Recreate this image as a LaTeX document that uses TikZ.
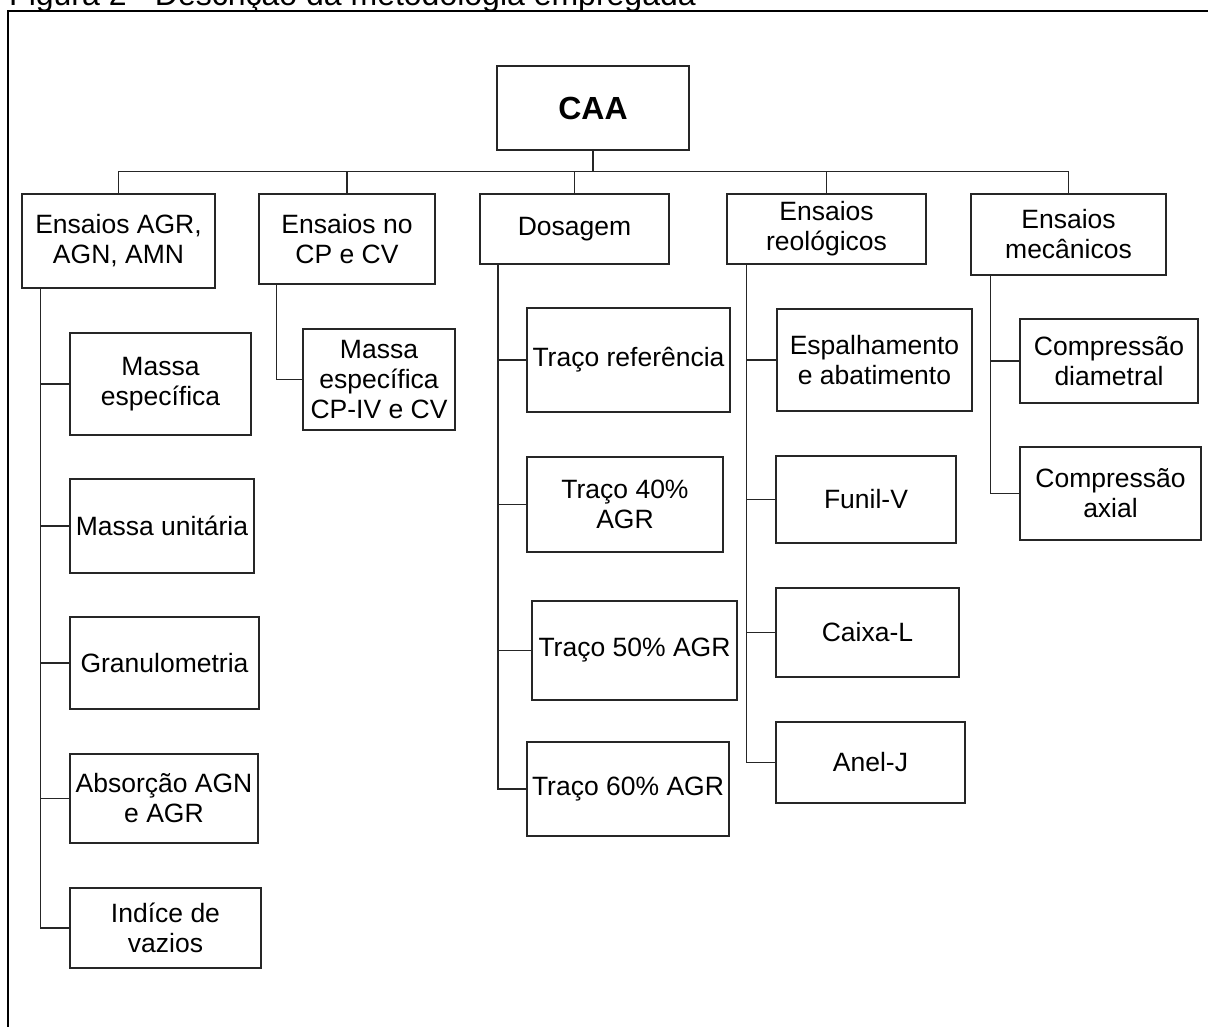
\documentclass[tikz,border=0pt]{standalone}
\usepackage{fontspec}
\setmainfont{Liberation Sans}
\newcommand\mybox[6]{%
  \pgfmathsetmacro\bw{#4-#2}%
  \pgfmathsetmacro\bh{#5-#3}%
  \pgfmathsetmacro\bcx{(#2+#4)/2}%
  \pgfmathsetmacro\bcy{(#3+#5)/2}%
  \node[bx,minimum width=\bw pt,minimum height=\bh pt] (#1) at (\bcx,\bcy) {#6};}
\begin{document}
\begin{tikzpicture}[x=1pt,y=-1pt,
  bx/.style={draw=black!85,line width=1.3pt,inner sep=0pt,align=center,font=\fontsize{26.5}{30}\selectfont},
  ln/.style={draw=black!85,line width=1.3pt}]
\useasboundingbox (0,0) rectangle (1208,1026);
% title and frame
\node[anchor=base west,inner sep=0pt,font=\fontsize{32}{38}\selectfont] (title) at (9,5) {Figura 2 - Descrição da metodologia empregada};
\draw[line width=2.8pt] (8,1040) -- (8,11) -- (1230,11);
% boxes
\mybox{caa}{497}{66}{689}{150}{\fontsize{32}{36}\selectfont\bfseries CAA}
\mybox{e1}{22}{194}{215}{288}{Ensaios AGR,\\AGN, AMN}
\mybox{e2}{259}{194}{435}{284}{Ensaios no\\CP e CV}
\mybox{e3}{480}{194}{669}{264}{Dosagem}
\mybox{e4}{727}{194}{926}{264}{Ensaios\\reológicos}
\mybox{e5}{971}{194}{1166}{275}{Ensaios\\mecânicos}
\mybox{a1}{70}{333}{251}{435}{Massa\\específica}
\mybox{a2}{70}{479}{254}{573}{Massa unitária}
\mybox{a3}{70}{617}{259}{709}{Granulometria}
\mybox{a4}{70}{754}{258}{843}{Absorção AGN\\e AGR}
\mybox{a5}{70}{888}{261}{968}{Indíce de\\vazios}
\mybox{b1}{303}{329}{455}{430}{Massa\\específica\\CP-IV e CV}
\mybox{c1}{527}{308}{730}{412}{Traço referência}
\mybox{c2}{527}{457}{723}{552}{Traço 40\%\\AGR}
\mybox{c3}{532}{601}{737}{700}{Traço 50\% AGR}
\mybox{c4}{527}{742}{729}{836}{Traço 60\% AGR}
\mybox{d1}{777}{309}{972}{411}{Espalhamento\\e abatimento}
\mybox{d2}{776}{456}{956}{543}{Funil-V}
\mybox{d3}{776}{588}{959}{677}{Caixa-L}
\mybox{d4}{776}{722}{965}{803}{Anel-J}
\mybox{f1}{1020}{319}{1198}{403}{Compressão\\diametral}
\mybox{f2}{1020}{447}{1201}{540}{Compressão\\axial}
% top level bus
\coordinate (bus) at (0,171.5);
\draw[ln] (caa.south) -- (caa.south |- bus);
\draw[ln] (e1.north) -- (e1.north |- bus) -| (e5.north);
\foreach \n in {e2,e3,e4}{\draw[ln] (\n.north) -- (\n.north |- bus);}
% spines
\coordinate (s1) at ([xshift=19pt]e1.south west);
\coordinate (s2) at ([xshift=18pt]e2.south west);
\coordinate (s3) at ([xshift=18.5pt]e3.south west);
\coordinate (s4) at ([xshift=20pt]e4.south west);
\coordinate (s5) at ([xshift=20pt]e5.south west);
\draw[ln] (s1) |- (a5.west);
\foreach \n in {a1,a2,a3,a4}{\draw[ln] (\n.west) -- (\n.west -| s1);}
\draw[ln] (s2) |- (b1.west);
\draw[ln] (s3) |- (c4.west);
\foreach \n in {c1,c2,c3}{\draw[ln] (\n.west) -- (\n.west -| s3);}
\draw[ln] (s4) |- (d4.west);
\foreach \n in {d1,d2,d3}{\draw[ln] (\n.west) -- (\n.west -| s4);}
\draw[ln] (s5) |- (f2.west);
\draw[ln] (f1.west) -- (f1.west -| s5);
\end{tikzpicture}
\end{document}
